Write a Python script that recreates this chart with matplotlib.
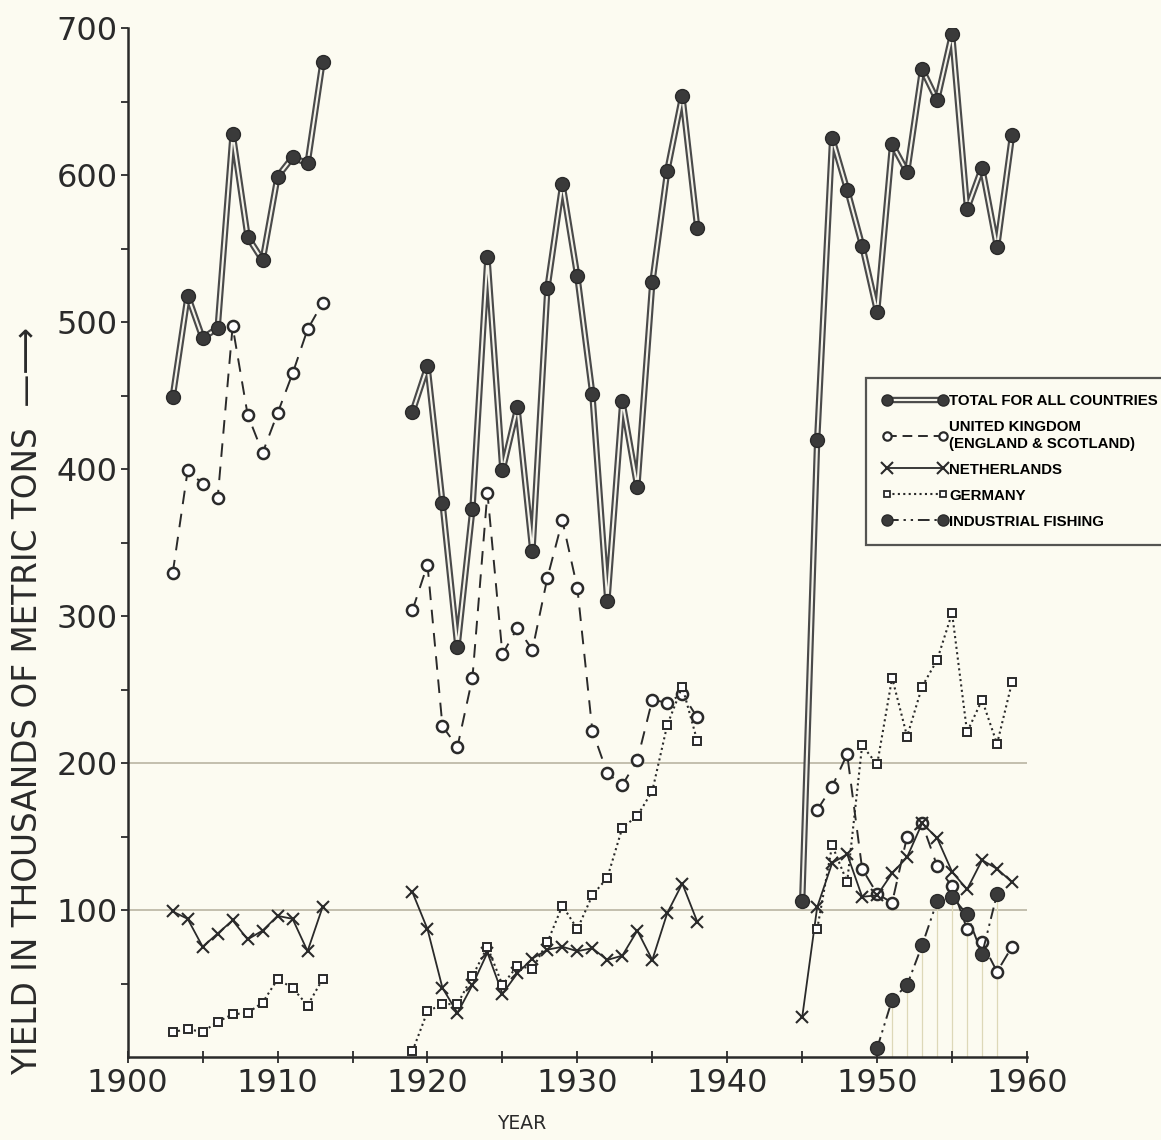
import matplotlib
matplotlib.use("Agg")
import matplotlib.pyplot as plt
import matplotlib.patheffects as pe
from matplotlib.lines import Line2D
from matplotlib.legend_handler import HandlerTuple
import numpy as np

# ---------------- data (thousands of metric tons) ----------------
years_a = [1903, 1904, 1905, 1906, 1907, 1908, 1909, 1910, 1911, 1912, 1913]
years_b = list(range(1919, 1939))
years_c = list(range(1945, 1960))
years_c_uk = list(range(1946, 1960))
years_ind = list(range(1950, 1959))

total_a = [449, 518, 489, 496, 628, 558, 542, 599, 612, 608, 677]
total_b = [439, 470, 377, 279, 373, 544, 399, 442, 344, 523, 594, 531, 451, 310,
           446, 388, 527, 603, 654, 564]
total_c = [106, 420, 625, 590, 552, 507, 621, 602, 672, 651, 696, 577, 605, 551, 627]

uk_a = [329, 399, 390, 380, 497, 437, 411, 438, 465, 495, 513]
uk_b = [304, 335, 225, 211, 258, 384, 274, 292, 277, 326, 365, 319, 222, 193,
        185, 202, 243, 241, 247, 231]
uk_c = [168, 184, 206, 128, 111, 105, 150, 159, 130, 116, 87, 78, 58, 75]

nl_a = [99, 94, 75, 84, 93, 80, 86, 96, 94, 72, 102]
nl_b = [112, 87, 47, 30, 49, 71, 43, 57, 67, 73, 75, 72, 74, 66, 69, 86, 66, 98,
        118, 92]
nl_c = [27, 102, 132, 138, 109, 110, 125, 136, 159, 149, 126, 114, 134, 128, 119]

de_a = [17, 19, 17, 24, 29, 30, 37, 53, 47, 35, 53]
de_b = [4, 31, 36, 36, 55, 75, 49, 62, 60, 78, 103, 87, 110, 122, 156, 164, 181,
        226, 252, 215]
de_c_years = list(range(1946, 1960))
de_c = [87, 144, 119, 212, 199, 258, 218, 252, 270, 302, 221, 243, 213, 255]

ind = [6, 39, 49, 76, 106, 109, 97, 70, 111]

y_ticks = [100, 200, 300, 400, 500, 600, 700]
x_ticks = [1900, 1910, 1920, 1930, 1940, 1950, 1960]

# ---------------- styling ----------------
bg = "#fcfbf1"
ink = "#2a2a2a"
dark = "#3a3a3a"

fig = plt.figure(figsize=(11.61, 11.40), dpi=100, facecolor=bg)
ax = fig.add_axes([0.110, 0.0728, 0.7746, 0.9026], facecolor=bg)
ax.set_xlim(1900, 1960)
ax.set_ylim(0, 700)

# faint reference lines
for g in (100, 200):
    ax.axhline(g, color="#bfbaa8", lw=1.3, zorder=1)

# faint vertical hatch under industrial fishing
ax.vlines(years_ind, 0, ind, colors="#ddd8b8", lw=0.9, zorder=1)

double = [pe.Stroke(linewidth=4.6, foreground="#4a4a4a"), pe.Normal()]

for yrs, vals in ((years_a, total_a), (years_b, total_b), (years_c, total_c)):
    ax.plot(yrs, vals, color="#f4f3ea", lw=1.5, zorder=4, path_effects=double,
            solid_joinstyle="round", solid_capstyle="round")
    ax.plot(yrs, vals, ls="none", marker="o", ms=10, mfc=dark, mec=ink,
            zorder=5)

uk_style = dict(color=ink, lw=1.4, ls=(0, (7, 5)), marker="o", ms=8,
                mfc="white", mec=ink, mew=1.8, zorder=4)
for yrs, vals in ((years_a, uk_a), (years_b, uk_b), (years_c_uk, uk_c)):
    ax.plot(yrs, vals, **uk_style)

nl_style = dict(color=ink, lw=1.3, ls="-", marker="x", ms=9, mew=1.5, zorder=4)
for yrs, vals in ((years_a, nl_a), (years_b, nl_b), (years_c, nl_c)):
    ax.plot(yrs, vals, **nl_style)

de_style = dict(color=ink, lw=1.5, ls=(0, (1, 1.6)), marker="s", ms=5.5,
                mfc="white", mec=ink, mew=1.4, zorder=4)
for yrs, vals in ((years_a, de_a), (years_b, de_b), (de_c_years, de_c)):
    ax.plot(yrs, vals, **de_style)

ind_ls = (0, (6, 2.5, 1.2, 2.5, 1.2, 2.5))
ax.plot(years_ind, ind, color=ink, lw=1.4, ls=ind_ls,
        marker="o", ms=10, mfc=dark, mec=ink, zorder=4)

# ---------------- axes ----------------
for s in ("top", "right"):
    ax.spines[s].set_visible(False)
for s in ("left", "bottom"):
    ax.spines[s].set_color(ink)
    ax.spines[s].set_linewidth(1.8)

tick_font = dict(family=["DejaVu Sans"], size=23)
ax.set_yticks(y_ticks)
ax.set_yticklabels([str(v) for v in y_ticks], fontdict=tick_font, color=ink)
ax.set_yticks(np.arange(50, 700, 100), minor=True)
ax.set_xticks(x_ticks)
ax.set_xticklabels([str(v) for v in x_ticks], fontdict=tick_font, color=ink)
ax.set_xticks(np.arange(1905, 1960, 10), minor=True)
ax.tick_params(axis="y", which="both", direction="out", length=5, width=1.3,
               colors=ink, pad=2)
ax.tick_params(axis="x", which="both", direction="inout", length=8, width=1.3,
               colors=ink, pad=4)

fig.text(0.024, 0.057, "YIELD IN THOUSANDS OF METRIC TONS  \u2014\u27f6",
         rotation=90, ha="center", va="bottom", fontsize=23.5, color=ink,
         family=["DejaVu Sans"])
fig.text(0.449, 0.006, "YEAR", ha="center", va="bottom", fontsize=13.5,
         color=ink, family=["DejaVu Sans"])

# ---------------- legend ----------------
h_total = (Line2D([], [], color="#f4f3ea", lw=1.5, path_effects=double),
           Line2D([], [], ls="none", marker="o", ms=8, mfc=dark, mec=ink))
h_uk = Line2D([], [], color=ink, lw=1.4, ls=(0, (5, 3)), marker="o", ms=6,
              mfc="white", mec=ink, mew=1.6)
h_nl = Line2D([], [], color=ink, lw=1.3, ls="-", marker="x", ms=8, mew=1.5)
h_de = Line2D([], [], color=ink, lw=1.5, ls=(0, (1, 1.6)), marker="s", ms=5,
              mfc="white", mec=ink, mew=1.3)
h_ind = Line2D([], [], color=ink, lw=1.4, ls=ind_ls,
               marker="o", ms=8, mfc=dark, mec=ink)
labels = ["TOTAL FOR ALL COUNTRIES", "UNITED KINGDOM\n(ENGLAND & SCOTLAND)",
          "NETHERLANDS", "GERMANY", "INDUSTRIAL FISHING"]
leg = ax.legend([h_total, h_uk, h_nl, h_de, h_ind], labels,
                handler_map={tuple: HandlerTuple(ndivide=1)},
                loc="upper left", bbox_to_anchor=(0.821, 0.660),
                numpoints=2, handlelength=4.3, handletextpad=0.15,
                borderpad=1.1, labelspacing=0.8, borderaxespad=0,
                frameon=True, fancybox=False,
                prop=dict(family=["Liberation Sans", "DejaVu Sans"],
                          weight="bold", size=10.8))
leg.get_frame().set_edgecolor(ink)
leg.get_frame().set_linewidth(1.6)
leg.get_frame().set_facecolor(bg)
leg.set_zorder(10)

fig.savefig("out.png", dpi=100, facecolor=bg)
